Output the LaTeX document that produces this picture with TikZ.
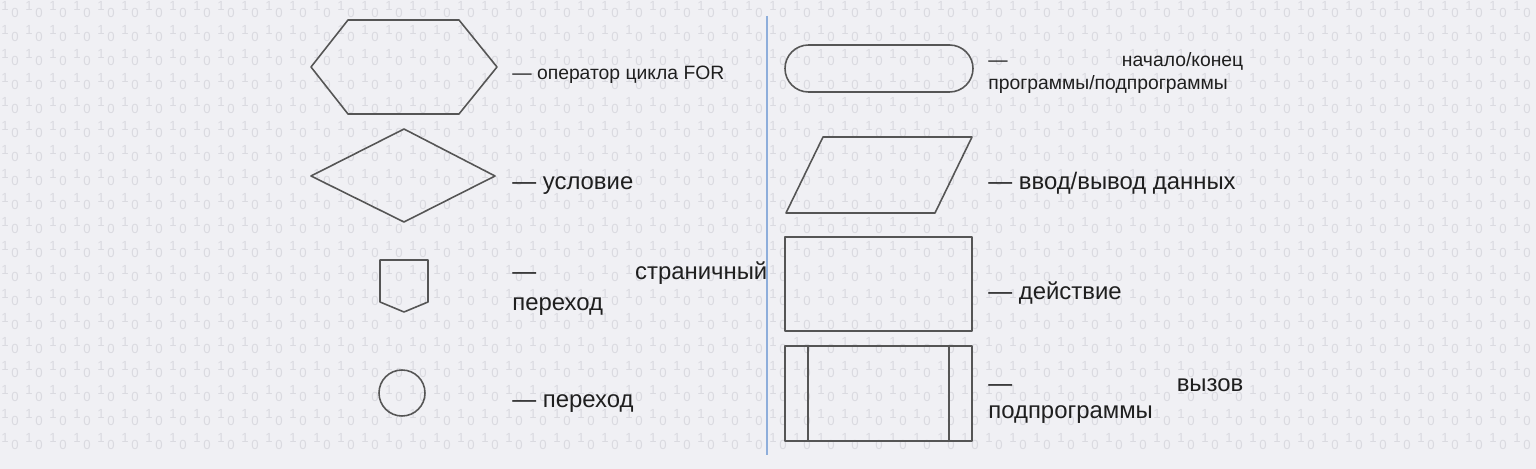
\documentclass[tikz,border=0pt]{standalone}
\usepackage{fontspec}
\setmainfont{Liberation Sans}
\definecolor{fcpaper}{HTML}{F0F0F4}
\definecolor{fcdigit}{HTML}{DADAE0}
\definecolor{fcink}{HTML}{555555}
\definecolor{fcrule}{HTML}{8EAEDB}
\tikzset{
  fcbg/.style={fill=fcpaper},
  fcdig/.style={text=fcdigit, inner sep=0pt, font=\fontsize{7.5}{8}\selectfont},
  fcshape/.style={line width=0.9pt, draw=fcink, line join=round},
  fcsep/.style={line width=1.1pt, draw=fcrule},
  fcbig/.style={inner sep=0pt, anchor=base west, text=black!88, font=\fontsize{13.6}{16.5}\selectfont},
  fcsmall/.style={inner sep=0pt, anchor=base west, text=black!88, font=\fontsize{11}{13}\selectfont},
  fcwide/.style={text width=5.1cm, align=left},
}

\begin{document}
\begin{tikzpicture}[x=0.02cm, y=-0.02cm]
\path[fcbg, use as bounding box] (0,0) rectangle (1536,469);
\foreach \i in {0,...,63}
  \foreach \j in {0,...,18} {
    \node[fcdig] at (\i*24+5, \j*24+6) {1};
    \node[fcdig] at (\i*24+15, \j*24+13) {0};
  }
\draw[fcsep] (767,16) -- (767,455);
\draw[fcshape] (311,67) -- (348,20) -- (459,20) -- (497,67) -- (459,114) -- (348,114) -- cycle;
\draw[fcshape] (311,176) -- (404,129) -- (495,176) -- (404,222) -- cycle;
\draw[fcshape] (380,260) -- (428,260) -- (428,302) -- (404,312) -- (380,302) -- cycle;
\draw[fcshape] (402,393) circle (23);
\draw[fcshape, rounded corners=0.47cm] (785,45) rectangle (973,92);
\draw[fcshape] (823,137) -- (972,137) -- (935,213) -- (786,213) -- cycle;
\draw[fcshape] (785,237) rectangle (972,331);
\draw[fcshape] (785,346) rectangle (972,441);
\draw[fcshape] (808,346) -- (808,441);
\draw[fcshape] (949,346) -- (949,441);
\node[fcsmall] (forlbl) at (512,80) {— оператор цикла FOR};
\node[fcbig] (condlbl) at (512,190) {— условие};
\node[fcbig, fcwide] (pagelbl) at (512,280) {—\hfill страничный\\[1pt]переход};
\node[fcbig] (jumplbl) at (512,408) {— переход};
\node[fcsmall, fcwide] (termlbl) at (988,67) {—\hfill начало/конец\\программы/подпрограммы};
\node[fcbig] (iolbl) at (988,190) {— ввод/вывод данных};
\node[fcbig] (actlbl) at (988,300) {— действие};
\node[fcbig, fcwide] (calllbl) at (988,392) {—\hfill вызов\\[-1.5pt]подпрограммы};
\end{tikzpicture}
\end{document}
